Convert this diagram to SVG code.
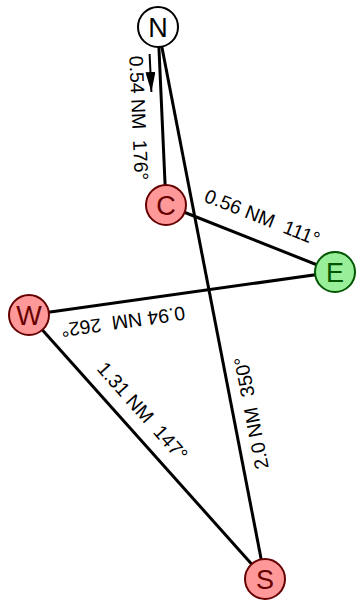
<svg xmlns="http://www.w3.org/2000/svg" width="357" height="603" viewBox="0 0 357 603">
<style>
.edge{stroke:#000;stroke-width:3;fill:none}
.lbl{font-family:"Liberation Sans",Arial,sans-serif;font-size:19.5px;fill:#000;text-anchor:middle}
.node circle{stroke-width:2}
.node text{font-family:"Liberation Sans",Arial,sans-serif;font-size:27px;text-anchor:middle}
.red circle{fill:#ff9999;stroke:#660000}
.red text{fill:#660000}
.green circle{fill:#99ee99;stroke:#005500}
.green text{fill:#005500}
.white circle{fill:#fff;stroke:#000}
.white text{fill:#000}
</style>
<defs>
<marker id="ah" viewBox="0 0 20 10" refX="20" refY="5" markerWidth="20" markerHeight="10" markerUnits="userSpaceOnUse" orient="auto">
<path d="M0,0 L20,5 L0,10 Z" fill="#000"/>
</marker>
</defs>
<rect width="357" height="603" fill="#fff"/>
<g id="connectors">
<line class="edge" x1="158" y1="27" x2="166" y2="205"/>
<line class="edge" x1="166" y1="205" x2="335" y2="272"/>
<line class="edge" x1="335" y1="272" x2="29" y2="315"/>
<line class="edge" x1="29" y1="315" x2="265" y2="579"/>
<line class="edge" x1="265" y1="579" x2="158" y2="27"/>
<line x1="149.6" y1="54" x2="151.4" y2="92" stroke="#000" stroke-width="2" marker-end="url(#ah)"/>
<g id="labels">
<text class="lbl" xml:space="preserve" transform="translate(138,118) rotate(87.4)" y="6">0.54 NM  176°</text>
<text class="lbl" xml:space="preserve" transform="translate(262,218) rotate(21.6)" y="6">0.56 NM  111°</text>
<text class="lbl" xml:space="preserve" transform="translate(123,321) rotate(172)" y="6">0.94 NM  262°</text>
<text class="lbl" xml:space="preserve" transform="translate(142,412) rotate(48.3)" y="6">1.31 NM  147°</text>
<text class="lbl" xml:space="preserve" transform="translate(252,413) rotate(-101)" y="6">2.0 NM  350°</text>
</g>
</g>
<g id="node-N" class="node white"><circle cx="158" cy="27" r="20"/><text x="158" y="36.7">N</text></g>
<g id="node-C" class="node red"><circle cx="166" cy="205" r="20"/><text x="166" y="214.7">C</text></g>
<g id="node-E" class="node green"><circle cx="335" cy="272" r="20"/><text x="335" y="281.7">E</text></g>
<g id="node-W" class="node red"><circle cx="29" cy="315" r="20"/><text x="29" y="324.7">W</text></g>
<g id="node-S" class="node red"><circle cx="265" cy="579" r="20"/><text x="265" y="588.7">S</text></g>
</svg>
